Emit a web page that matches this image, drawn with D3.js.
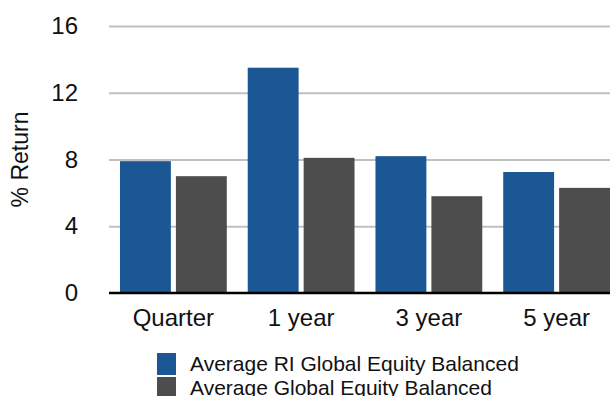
<!DOCTYPE html>
<html>
<head>
<meta charset="utf-8">
<script src="https://cdn.jsdelivr.net/npm/d3@7"></script>
<style>
  html, body { margin: 0; padding: 0; background: #fff; }
  svg { display: block; font-family: "Liberation Sans", Arial, sans-serif; }
</style>
</head>
<body>
<svg id="chart" width="610" height="396"></svg>
<script>
const categories = ["Quarter", "1 year", "3 year", "5 year"];
const seriesNames = ["Average RI Global Equity Balanced", "Average Global Equity Balanced"];
const riValues = [7.9, 13.5, 8.2, 7.25];
const globalValues = [7.0, 8.1, 5.8, 6.3];
const yTicks = [0, 4, 8, 12, 16];
const colors = ["#1a5794", "#4d4d4d"];

const svg = d3.select("#chart");
const plotLeft = 109, plotRight = 621, plotTop = 26, plotBottom = 293;

const x0 = d3.scaleBand().domain(categories).range([plotLeft, plotRight])
  .paddingInner(0.164).paddingOuter(0.086);
const x1 = d3.scaleBand().domain(seriesNames).range([0, x0.bandwidth()])
  .paddingInner(0.09).paddingOuter(0);
const y = d3.scaleLinear().domain([0, 16]).range([plotBottom, plotTop]);

// gridlines
const grid = svg.append("g").attr("transform", `translate(${plotLeft},0)`)
  .call(d3.axisLeft(y).tickValues(yTicks.filter(d => d > 0)).tickSize(-(610 - plotLeft)).tickFormat(""));
grid.select(".domain").remove();
grid.selectAll("line").attr("stroke", "#c0c0c0").attr("stroke-width", 2);

// y tick labels
const yAxis = svg.append("g").attr("transform", `translate(${plotLeft},0)`)
  .call(d3.axisLeft(y).tickValues(yTicks).tickSize(0).tickPadding(31).tickFormat(d3.format("d")));
yAxis.select(".domain").remove();
yAxis.selectAll("text").attr("font-size", 24).attr("fill", "#111").attr("font-family", "Liberation Sans, Arial, sans-serif");

// bars
const data = categories.map((c, i) => ({ cat: c, vals: [riValues[i], globalValues[i]] }));
const groups = svg.append("g").selectAll("g").data(data).join("g")
  .attr("transform", d => `translate(${x0(d.cat)},0)`);
groups.selectAll("rect").data(d => d.vals.map((v, j) => ({ name: seriesNames[j], v, j })))
  .join("rect")
  .attr("x", d => x1(d.name))
  .attr("width", x1.bandwidth())
  .attr("y", d => y(d.v))
  .attr("height", d => y(0) - y(d.v))
  .attr("fill", d => colors[d.j]);

// x axis
const xAxis = svg.append("g").attr("transform", `translate(0,${plotBottom})`)
  .call(d3.axisBottom(x0).tickSize(0).tickPadding(16));
xAxis.select(".domain").remove();
xAxis.append("line").attr("x1", plotLeft).attr("x2", 610).attr("y1", 0).attr("y2", 0)
  .attr("stroke", "#000").attr("stroke-width", 2.5);
xAxis.selectAll("text").attr("font-size", 24).attr("fill", "#111").attr("font-family", "Liberation Sans, Arial, sans-serif");

// y title
svg.append("text")
  .attr("transform", `translate(28,${(plotTop + plotBottom) / 2}) rotate(-90)`)
  .attr("text-anchor", "middle")
  .attr("font-size", 23)
  .attr("fill", "#111")
  .text("% Return");

// legend
const legend = svg.append("g").attr("transform", "translate(157,353)");
const items = legend.selectAll("g").data(seriesNames).join("g")
  .attr("transform", (d, i) => `translate(0,${i * 24})`);
items.append("rect").attr("width", 19).attr("height", 22).attr("fill", (d, i) => colors[i]);
items.append("text").attr("x", 33).attr("y", 18).attr("font-size", 21).attr("fill", "#111").text(d => d);
</script>
</body>
</html>
